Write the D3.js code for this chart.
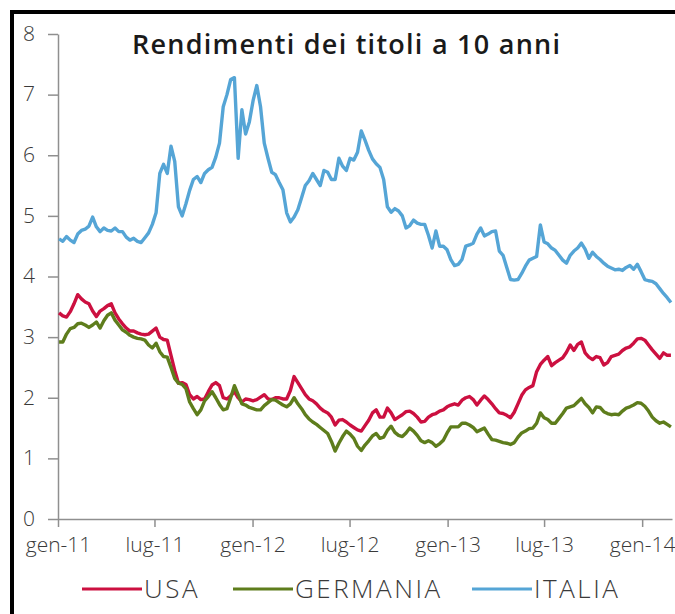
<!DOCTYPE html>
<html>
<head>
<meta charset="utf-8">
<script src="https://cdn.jsdelivr.net/npm/d3@7"></script>
<style>
    body { margin: 0; background: #fff; }
    svg { display: block; }
</style>
</head>
<body>
<div id="chart"></div>
<script>
// GLOBAL VARIABLES //
const width = 675
const height = 614

let dimensions = {
    width: width,
    height: height,
    margin: {
        top: 34,
        right: 3,
        bottom: 95,
        left: 58,
    },
}

dimensions.boundedWidth = dimensions.width
    - dimensions.margin.left
    - dimensions.margin.right

dimensions.boundedHeight = dimensions.height
    - dimensions.margin.top
    - dimensions.margin.bottom

// DATA //
const title = "Rendimenti dei titoli a 10 anni"
const seriesNames = ["USA", "GERMANIA", "ITALIA"]
const seriesColors = ["#cc1040", "#5e7d1c", "#55a5d6"]

// weekly observations (mondays), first one 3 Jan 2011, last one 24 Feb 2014
const firstWeek = new Date(2011, 0, 3)
const lastWeek = new Date(2014, 1, 24)

const xTickDates = [
    new Date(2011, 0, 1), new Date(2011, 6, 1),
    new Date(2012, 0, 1), new Date(2012, 6, 1),
    new Date(2013, 0, 1), new Date(2013, 6, 1),
    new Date(2014, 0, 1),
]
const xTickLabels = ["gen-11", "lug-11", "gen-12", "lug-12", "gen-13", "lug-13", "gen-14"]
const yTicks = [0, 1, 2, 3, 4, 5, 6, 7, 8]

const usa = [
    3.40, 3.35, 3.33, 3.42, 3.55, 3.70, 3.63, 3.58, 3.55, 3.43,
    3.34, 3.43, 3.47, 3.52, 3.55, 3.40, 3.30, 3.22, 3.15, 3.10,
    3.10, 3.07, 3.05, 3.04, 3.05, 3.10, 3.15, 3.00, 2.96, 2.95,
    2.70, 2.45, 2.24, 2.25, 2.22, 2.05, 1.98, 2.02, 1.97, 1.98,
    2.10, 2.21, 2.25, 2.20, 2.00, 1.98, 2.03, 2.10, 2.00, 1.93,
    1.98, 1.97, 1.95, 1.97, 2.01, 2.05, 1.98, 1.97, 2.00, 2.00,
    1.98, 1.98, 2.12, 2.35, 2.25, 2.15, 2.05, 1.98, 1.95, 1.90,
    1.83, 1.78, 1.75, 1.68, 1.55, 1.63, 1.64, 1.60, 1.55, 1.51,
    1.47, 1.45, 1.54, 1.63, 1.75, 1.80, 1.68, 1.68, 1.83, 1.75,
    1.64, 1.68, 1.72, 1.77, 1.78, 1.74, 1.68, 1.60, 1.61, 1.68,
    1.72, 1.74, 1.78, 1.80, 1.85, 1.88, 1.90, 1.88, 1.96, 2.00,
    2.02, 1.97, 1.88, 1.96, 2.03, 1.97, 1.90, 1.82, 1.75, 1.74,
    1.71, 1.67, 1.76, 1.90, 2.04, 2.13, 2.17, 2.20, 2.43, 2.55,
    2.62, 2.68, 2.53, 2.58, 2.62, 2.66, 2.75, 2.87, 2.78, 2.88,
    2.92, 2.74, 2.67, 2.63, 2.68, 2.66, 2.54, 2.58, 2.68, 2.70,
    2.72, 2.78, 2.82, 2.84, 2.90, 2.97, 2.98, 2.95, 2.87, 2.79,
    2.72, 2.65, 2.74, 2.70, 2.70,
]

const germania = [
    2.92, 2.92, 3.05, 3.14, 3.16, 3.22, 3.23, 3.20, 3.16, 3.20,
    3.25, 3.15, 3.27, 3.36, 3.40, 3.28, 3.20, 3.12, 3.08, 3.03,
    3.00, 2.98, 2.97, 2.95, 2.87, 2.82, 2.90, 2.76, 2.68, 2.67,
    2.50, 2.32, 2.24, 2.22, 2.15, 1.93, 1.82, 1.72, 1.80, 1.95,
    2.02, 2.10, 2.00, 1.89, 1.80, 1.82, 2.00, 2.20, 2.05, 1.90,
    1.88, 1.84, 1.82, 1.80, 1.80, 1.87, 1.92, 1.97, 1.96, 1.92,
    1.88, 1.85, 1.90, 2.00, 1.90, 1.82, 1.72, 1.65, 1.60, 1.56,
    1.51, 1.46, 1.41, 1.28, 1.12, 1.25, 1.36, 1.45, 1.40, 1.33,
    1.20, 1.13, 1.22, 1.29, 1.37, 1.41, 1.33, 1.35, 1.46, 1.53,
    1.43, 1.38, 1.36, 1.42, 1.50, 1.45, 1.38, 1.29, 1.26, 1.29,
    1.26, 1.20, 1.24, 1.30, 1.42, 1.52, 1.52, 1.52, 1.58, 1.58,
    1.55, 1.51, 1.44, 1.47, 1.50, 1.40, 1.31, 1.30, 1.28, 1.26,
    1.25, 1.23, 1.26, 1.35, 1.42, 1.45, 1.49, 1.50, 1.58, 1.75,
    1.67, 1.64, 1.58, 1.58, 1.66, 1.74, 1.83, 1.85, 1.87, 1.93,
    1.99, 1.90, 1.84, 1.75, 1.85, 1.84, 1.77, 1.74, 1.72, 1.73,
    1.72, 1.78, 1.83, 1.85, 1.88, 1.92, 1.91, 1.86, 1.78, 1.68,
    1.62, 1.58, 1.60, 1.56, 1.52,
]

const italia = [
    4.62, 4.58, 4.66, 4.60, 4.56, 4.70, 4.76, 4.78, 4.83, 4.98,
    4.82, 4.74, 4.80, 4.76, 4.75, 4.80, 4.74, 4.74, 4.65, 4.60,
    4.63, 4.58, 4.56, 4.64, 4.72, 4.86, 5.05, 5.70, 5.85, 5.70,
    6.15, 5.90, 5.15, 5.00, 5.20, 5.42, 5.60, 5.65, 5.55, 5.70,
    5.76, 5.80, 5.97, 6.20, 6.80, 7.00, 7.25, 7.28, 5.95, 6.75,
    6.35, 6.55, 6.90, 7.15, 6.80, 6.20, 5.95, 5.72, 5.68, 5.55,
    5.43, 5.05, 4.90, 4.98, 5.10, 5.30, 5.50, 5.58, 5.70, 5.60,
    5.50, 5.75, 5.72, 5.60, 5.60, 5.95, 5.82, 5.75, 5.95, 5.92,
    6.05, 6.40, 6.25, 6.08, 5.94, 5.86, 5.80, 5.60, 5.15, 5.06,
    5.12, 5.08, 5.00, 4.80, 4.84, 4.93, 4.88, 4.86, 4.86, 4.68,
    4.47, 4.75, 4.50, 4.50, 4.44, 4.28, 4.18, 4.20, 4.28, 4.50,
    4.52, 4.55, 4.70, 4.80, 4.67, 4.70, 4.74, 4.75, 4.42, 4.35,
    4.15, 3.95, 3.94, 3.95, 4.05, 4.17, 4.27, 4.30, 4.33, 4.85,
    4.57, 4.54, 4.47, 4.43, 4.35, 4.27, 4.22, 4.35, 4.42, 4.47,
    4.55, 4.45, 4.30, 4.40, 4.33, 4.28, 4.22, 4.17, 4.14, 4.11,
    4.12, 4.10, 4.15, 4.18, 4.12, 4.20, 4.08, 3.95, 3.93, 3.92,
    3.88, 3.80, 3.72, 3.65, 3.57,
]

// legend: where each swatch starts
const legendX = [82, 233, 472]

// Create scales
const xScale = d3.scaleTime()
    .domain([new Date(2011, 0, 1), new Date(2014, 1, 26)])
    .range([0, dimensions.boundedWidth])

const yScale = d3.scaleLinear()
    .domain([0, 8])
    .range([dimensions.boundedHeight, 0])

const xAxisGenerator = d3.axisBottom()
    .scale(xScale)
    .tickValues(xTickDates)
    .tickFormat((d, i) => xTickLabels[i])
    .tickSize(8)
    .tickSizeOuter(0)
    .tickPadding(10)

const yAxisGenerator = d3.axisLeft()
    .scale(yScale)
    .tickValues(yTicks)
    .tickSize(10)
    .tickSizeOuter(0)
    .tickPadding(13)

const xAccessor = d => d.date
const yAccessor = d => d.value

function drawChart() {
    const weeks = d3.timeMonday.range(firstWeek, d3.timeDay.offset(lastWeek, 1))
    const allSeries = [usa, germania, italia].map((values, i) => ({
        name: seriesNames[i],
        color: seriesColors[i],
        points: values.map((v, j) => ({ date: weeks[j], value: v })),
    }))

    const wrapper = d3.select("#chart")
        .append("svg")
        .attr("width", dimensions.width)
        .attr("height", dimensions.height)

    // black frame, only top and left edges fall inside the picture
    wrapper.append("rect")
        .attr("x", 12)
        .attr("y", 12)
        .attr("width", 700)
        .attr("height", 700)
        .attr("fill", "none")
        .attr("stroke", "#000")
        .attr("stroke-width", 4)

    const bounds = wrapper.append("g")
        .style("transform", `translate(${
            dimensions.margin.left
        }px, ${
            dimensions.margin.top
        }px)`)

    // axes
    const xAxis = bounds.append("g")
        .call(xAxisGenerator)
        .style("transform", `translateY(${dimensions.boundedHeight}px)`)
    const yAxis = bounds.append("g")
        .call(yAxisGenerator)

    for (const ax of [xAxis, yAxis]) {
        ax.select(".domain").attr("stroke", "#8f8f8f").attr("stroke-width", 1.5)
        ax.selectAll(".tick line").attr("stroke", "#8f8f8f").attr("stroke-width", 1.5)
        ax.selectAll("text")
            .attr("fill", "#3a3a3a")
            .style("font-family", "'Open Sans', sans-serif")
            .style("font-weight", 300)
            .style("font-size", "21px")
    }
    yAxis.selectAll("text").attr("dy", "0.3em")

    // lines
    const lineGenerator = d3.line()
        .x(d => xScale(xAccessor(d)))
        .y(d => yScale(yAccessor(d)))

    bounds.selectAll(".series")
        .data(allSeries)
        .join("path")
        .attr("class", "series")
        .attr("d", d => lineGenerator(d.points))
        .attr("fill", "none")
        .attr("stroke", d => d.color)
        .attr("stroke-width", 3.4)
        .attr("stroke-linejoin", "round")

    // title
    wrapper.append("text")
        .attr("x", 132)
        .attr("y", 54)
        .attr("fill", "#1a1a1a")
        .attr("textLength", 428)
        .attr("lengthAdjust", "spacing")
        .style("font-family", "'Open Sans', sans-serif")
        .style("font-weight", 600)
        .style("font-size", "27px")
        .text(title)

    // legend
    const legend = wrapper.append("g")
        .selectAll("g")
        .data(allSeries)
        .join("g")
        .attr("transform", (d, i) => `translate(${legendX[i]}, 589)`)

    legend.append("line")
        .attr("x1", 0)
        .attr("x2", 60)
        .attr("stroke", d => d.color)
        .attr("stroke-width", 3)

    legend.append("text")
        .attr("x", 62)
        .attr("dy", "0.36em")
        .attr("fill", "#3a3a3a")
        .style("font-family", "'Open Sans', sans-serif")
        .style("font-weight", 300)
        .style("font-size", "26px")
        .style("letter-spacing", "2.5px")
        .text(d => d.name)
}

drawChart()
</script>
</body>
</html>
